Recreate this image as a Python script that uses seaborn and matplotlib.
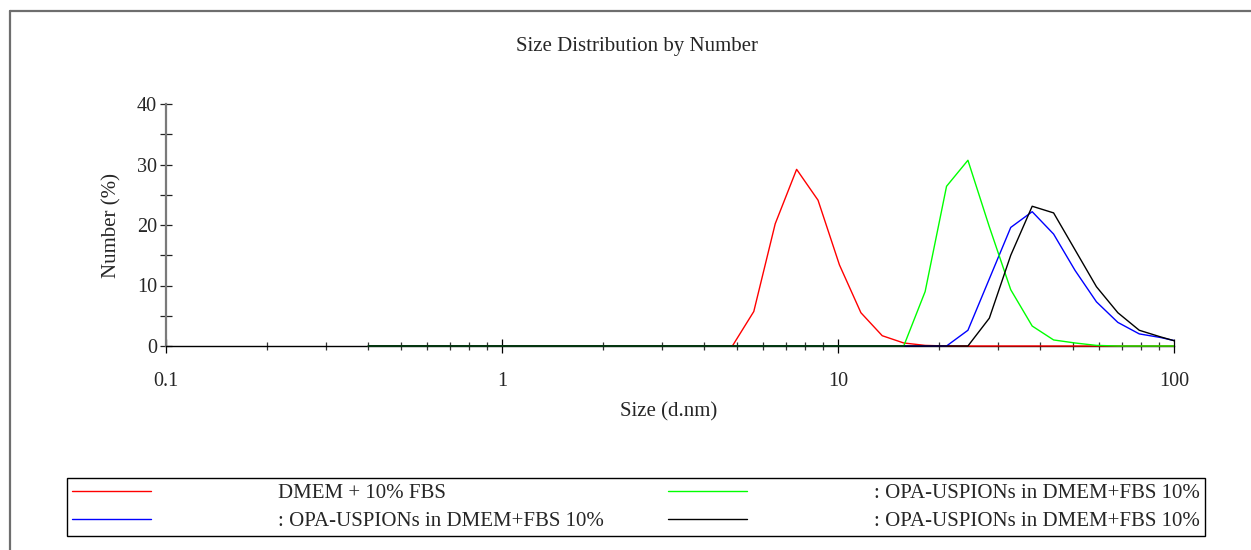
import matplotlib
matplotlib.use("Agg")
import matplotlib.pyplot as plt
from matplotlib.ticker import FixedLocator, MultipleLocator, NullFormatter, FixedFormatter, LogLocator
from matplotlib.lines import Line2D
from matplotlib.transforms import Bbox, TransformedBbox
import seaborn as sns
import pandas as pd

# Zetasizer size classes (d.nm)
sizes = [0.4, 0.4632, 0.5365, 0.6213, 0.7195, 0.8332, 0.9649, 1.117, 1.294, 1.499,
         1.736, 2.01, 2.328, 2.696, 3.122, 3.615, 4.187, 4.849, 5.615, 6.503,
         7.531, 8.721, 10.1, 11.7, 13.54, 15.69, 18.17, 21.04, 24.36, 28.21,
         32.67, 37.84, 43.82, 50.75, 58.77, 68.06, 78.82, 91.28, 105.7]

# Number distribution (%) per size class
dmem_fbs = [0, 0, 0, 0, 0, 0, 0, 0, 0, 0,
            0, 0, 0, 0, 0, 0, 0, 0, 5.7, 20.2,
            29.2, 24.1, 13.4, 5.5, 1.7, 0.5, 0.1, 0, 0, 0,
            0, 0, 0, 0, 0, 0, 0, 0, 0]
opa_run1 = [0, 0, 0, 0, 0, 0, 0, 0, 0, 0,
            0, 0, 0, 0, 0, 0, 0, 0, 0, 0,
            0, 0, 0, 0, 0, 0, 0, 0, 2.6, 11.1,
            19.6, 22.2, 18.5, 12.5, 7.3, 3.9, 2.0, 1.4, 0.6]
opa_run2 = [0, 0, 0, 0, 0, 0, 0, 0, 0, 0,
            0, 0, 0, 0, 0, 0, 0, 0, 0, 0,
            0, 0, 0, 0, 0, 0, 9.0, 26.4, 30.7, 19.7,
            9.3, 3.3, 1.0, 0.5, 0.1, 0, 0, 0, 0]
opa_run3 = [0, 0, 0, 0, 0, 0, 0, 0, 0, 0,
            0, 0, 0, 0, 0, 0, 0, 0, 0, 0,
            0, 0, 0, 0, 0, 0, 0, 0, 0, 4.6,
            15.0, 23.1, 22.0, 15.9, 9.8, 5.5, 2.6, 1.5, 0.5]

labels = ["DMEM + 10% FBS",
          ": OPA-USPIONs in DMEM+FBS 10%",
          ": OPA-USPIONs in DMEM+FBS 10%",
          ": OPA-USPIONs in DMEM+FBS 10%"]
colors = ["#ff0000", "#0000ff", "#00ff00", "#000000"]
series = [dmem_fbs, opa_run1, opa_run2, opa_run3]

x_ticks = [0.1, 1, 10, 100]
x_ticklabels = ["0.1", "1", "10", "100"]
y_ticks = [0, 10, 20, 30, 40]

sns.set_style("white")
plt.rcParams["font.family"] = ["Liberation Serif", "DejaVu Serif"]

W, H = 1251, 550
fig = plt.figure(figsize=(W / 100, H / 100), dpi=100)
ax = fig.add_axes([166 / W, 1 - 346 / H, (1174 - 166) / W, (346 - 104) / H])

# lines may sit on the baseline, so let them spill slightly below the axes box
clip = TransformedBbox(Bbox([[0, -0.05], [1, 1.05]]), ax.transAxes)

handles = []
for i, (vals, lab, col) in enumerate(zip(series, labels, colors)):
    df = pd.DataFrame({"size": sizes, "number": vals})
    sns.lineplot(data=df, x="size", y="number", ax=ax, color=col, lw=1.0,
                 estimator=None, sort=False, label=lab, legend=False)
    line = ax.lines[-1]
    line.set_zorder(3 + i)
    line.set_clip_box(clip)
    handles.append(line)

ax.set_xscale("log")
ax.set_xlim(0.1, 100)
ax.set_ylim(0, 40)

ax.xaxis.set_major_locator(FixedLocator(x_ticks))
ax.xaxis.set_major_formatter(FixedFormatter(x_ticklabels))
ax.xaxis.set_minor_locator(LogLocator(base=10, subs=range(2, 10)))
ax.xaxis.set_minor_formatter(NullFormatter())
ax.yaxis.set_major_locator(FixedLocator(y_ticks))
ax.yaxis.set_minor_locator(MultipleLocator(5))

for s in ["top", "right"]:
    ax.spines[s].set_visible(False)
ax.spines["bottom"].set_color("black")
ax.spines["bottom"].set_linewidth(1.0)
ax.spines["left"].set_color("#7a7a7a")
ax.spines["left"].set_linewidth(1.6)

ax.tick_params(axis="x", which="both", bottom=True, top=False)
ax.tick_params(axis="y", which="both", left=True, right=False)
ax.tick_params(axis="x", which="major", direction="inout", length=10, width=0.9,
               color="black", pad=14, labelsize=14.5)
ax.tick_params(axis="x", which="minor", direction="inout", length=6, width=0.9,
               color="#333333")
ax.tick_params(axis="y", which="both", direction="inout", length=9, width=0.9,
               color="#222222", pad=2, labelsize=14.5)
ax.tick_params(axis="y", which="minor", labelleft=False)

ax.set_xlabel("Size (d.nm)", fontsize=15)
ax.xaxis.label.set_va("center")
ax.xaxis.set_label_coords(0.499, (346 - 412) / 242)
ax.set_ylabel("Number (%)", fontsize=15)
ax.yaxis.label.set_va("center")
ax.yaxis.set_label_coords((112 - 166) / 1008, 0.5)

fig.suptitle("Size Distribution by Number", x=636.5 / W, y=1 - 46 / H,
             va="center", fontsize=15)

fs = 15
leg = fig.legend(handles, labels, loc="lower left",
                 bbox_to_anchor=(67 / W, 1 - 536 / H, (1205 - 67) / W, (536 - 478) / H),
                 bbox_transform=fig.transFigure, mode="expand", ncol=2,
                 fontsize=fs, handlelength=3.8, handletextpad=6.1,
                 borderpad=0.25, labelspacing=0.4, borderaxespad=0,
                 frameon=True, fancybox=False, framealpha=1, edgecolor="black")
leg.get_frame().set_linewidth(1.0)

# page border: left and top edges only
border_kw = dict(transform=fig.transFigure, color="#6e6e6e", linewidth=1.6)
fig.lines.append(Line2D([10 / W, 10 / W], [0, 1 - 11 / H], **border_kw))
fig.lines.append(Line2D([10 / W, 1], [1 - 11 / H, 1 - 11 / H], **border_kw))

fig.savefig("out.png", dpi=100, facecolor="white")
